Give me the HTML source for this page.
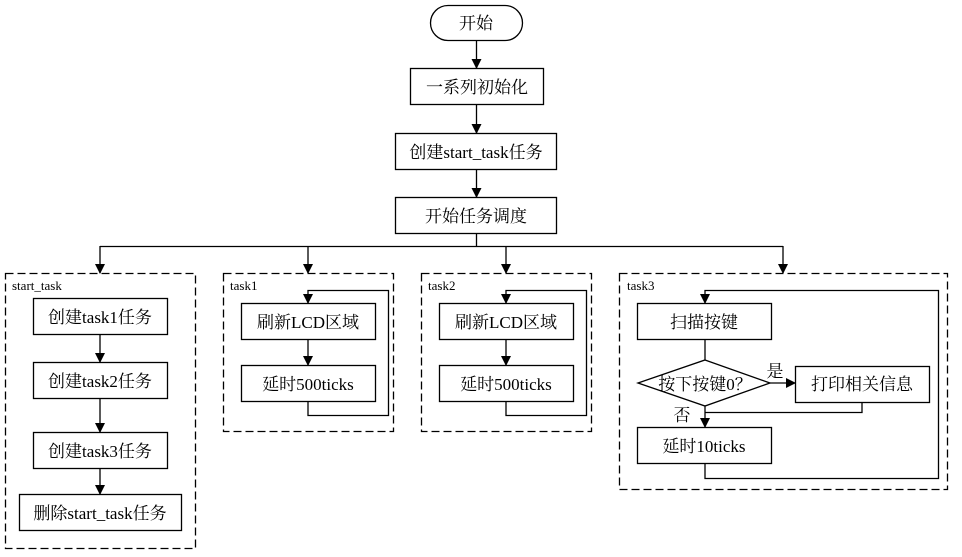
<!DOCTYPE html>
<html><head><meta charset="utf-8"><style>
html,body{margin:0;padding:0;background:#fff}
svg text{font-family:"Liberation Serif","Noto Serif CJK SC",serif;fill:#000}
</style></head><body>
<svg width="962" height="552" viewBox="0 0 962 552" xmlns="http://www.w3.org/2000/svg">
<defs><marker id="a" markerWidth="10" markerHeight="10" refX="9" refY="5" orient="auto" markerUnits="userSpaceOnUse"><path d="M0,0 L10,5 L0,10 z" fill="#000"/></marker></defs>
<g stroke="#000" stroke-width="1.3" fill="none">
<rect x="430.5" y="5.5" width="92" height="35" rx="17.5"/>
<rect x="410.5" y="68.5" width="133" height="36"/>
<rect x="395.5" y="133.5" width="161" height="36"/>
<rect x="395.5" y="197.5" width="161" height="36"/>
<line x1="476.5" y1="41" x2="476.5" y2="68" marker-end="url(#a)"/>
<line x1="476.5" y1="105" x2="476.5" y2="133" marker-end="url(#a)"/>
<line x1="476.5" y1="170" x2="476.5" y2="197" marker-end="url(#a)"/>
<line x1="476.5" y1="234" x2="476.5" y2="246"/>
<line x1="100" y1="246.5" x2="783" y2="246.5"/>
<line x1="100" y1="246" x2="100" y2="273" marker-end="url(#a)"/>
<line x1="308" y1="246" x2="308" y2="273" marker-end="url(#a)"/>
<line x1="506" y1="246" x2="506" y2="273" marker-end="url(#a)"/>
<line x1="783" y1="246" x2="783" y2="273" marker-end="url(#a)"/>
<g stroke-dasharray="8,4">
<rect x="5.5" y="273.5" width="190" height="275"/>
<rect x="223.5" y="273.5" width="170" height="158"/>
<rect x="421.5" y="273.5" width="170" height="158"/>
<rect x="619.5" y="273.5" width="328" height="216"/>
</g>
<rect x="33.5" y="298.5" width="134" height="36"/>
<rect x="33.5" y="362.5" width="134" height="36"/>
<rect x="33.5" y="432.5" width="134" height="36"/>
<rect x="19.5" y="494.5" width="162" height="36"/>
<line x1="100" y1="335" x2="100" y2="362" marker-end="url(#a)"/>
<line x1="100" y1="399" x2="100" y2="432" marker-end="url(#a)"/>
<line x1="100" y1="469" x2="100" y2="494" marker-end="url(#a)"/>
<rect x="241.5" y="303.5" width="134" height="36"/>
<rect x="241.5" y="365.5" width="134" height="36"/>
<line x1="308" y1="340" x2="308" y2="365" marker-end="url(#a)"/>
<polyline points="308,402 308,415.5 388.5,415.5 388.5,290.5 308,290.5 308,303" marker-end="url(#a)"/>
<rect x="439.5" y="303.5" width="134" height="36"/>
<rect x="439.5" y="365.5" width="134" height="36"/>
<line x1="506" y1="340" x2="506" y2="365" marker-end="url(#a)"/>
<polyline points="506,402 506,415.5 586.5,415.5 586.5,290.5 506,290.5 506,303" marker-end="url(#a)"/>
<rect x="637.5" y="303.5" width="134" height="36"/>
<line x1="705" y1="340" x2="705" y2="360"/>
<polygon points="705,360 770,383 705,406 638,383"/>
<rect x="795.5" y="366.5" width="134" height="36"/>
<line x1="770" y1="383" x2="795" y2="383" marker-end="url(#a)"/>
<polyline points="862,403 862,412.5 705,412.5"/>
<line x1="705" y1="406" x2="705" y2="427" marker-end="url(#a)"/>
<rect x="637.5" y="427.5" width="134" height="36"/>
<polyline points="705,464 705,478.5 938.5,478.5 938.5,290.5 705,290.5 705,303" marker-end="url(#a)"/>
</g>
<g font-size="17" text-anchor="middle">
<text x="476" y="29">开始</text>
<text x="477" y="93">一系列初始化</text>
<text x="476" y="158">创建start_task任务</text>
<text x="476" y="222">开始任务调度</text>
<text x="100" y="323">创建task1任务</text>
<text x="100" y="387">创建task2任务</text>
<text x="100" y="457">创建task3任务</text>
<text x="100" y="519">删除start_task任务</text>
<text x="308" y="328">刷新LCD区域</text>
<text x="308" y="390">延时500ticks</text>
<text x="506" y="328">刷新LCD区域</text>
<text x="506" y="390">延时500ticks</text>
<text x="704" y="328">扫描按键</text>
<text x="705" y="390">按下按键0？</text>
<text x="862" y="390">打印相关信息</text>
<text x="704" y="452">延时10ticks</text>
<text x="775" y="377">是</text>
<text x="682" y="421">否</text>
</g>
<g font-size="13">
<text x="12" y="290">start_task</text>
<text x="230" y="290">task1</text>
<text x="428" y="290">task2</text>
<text x="627" y="290">task3</text>
</g>
</svg>
</body></html>
